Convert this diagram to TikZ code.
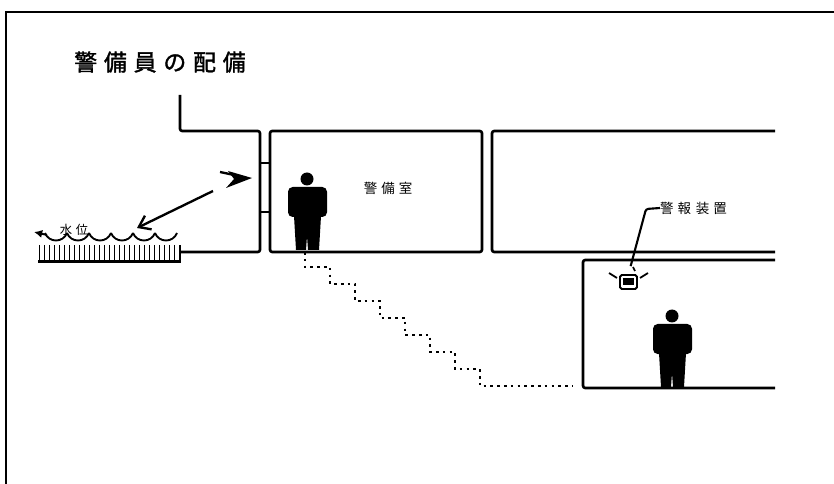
\documentclass[tikz,border=0pt]{standalone}
\usepackage{fontspec}
\newfontfamily\jp[LetterSpace=30]{Noto Sans CJK JP}
\newfontfamily\jptitle[LetterSpace=30,FakeBold=1.5]{Noto Sans CJK JP}
\usetikzlibrary{arrows.meta}

\tikzset{
  wall/.style={line width=2.3pt, rounded corners=2pt},
  stairpath/.style={line width=2.2pt, dash pattern=on 2.2pt off 3.6pt},
  lbl/.style={font=\jp\fontsize{11.5}{12}\selectfont, inner sep=0pt},
  guard/.pic={
    \fill (0,-71) circle (6.5);
    \fill[rounded corners=4pt] (-19,-63) rectangle (20,-33);
    \fill (-13,-34) -- (-11,0) -- (-1,0) -- (0,-14) -- (1,0) -- (12,0) -- (14,-34) -- cycle;
  }
}

\begin{document}
\begin{tikzpicture}[x=0.03cm, y=-0.03cm]
  \useasboundingbox (0,0) rectangle (834,484);
  \fill[white] (0,0) rectangle (834,484);

  % frame
  \draw[line width=2pt] (6,484) -- (6,12) -- (834,12);

  \node[font=\jptitle\fontsize{19.5}{20}\selectfont, inner sep=0pt] (title) at (160,62) {警備員の配備};

  % river side wall and ladder
  \draw[wall] (180,95) -- (180,131) -- (260,131) -- (260,252) -- (180,252);
  \draw[line width=2.3pt] (260,163) -- (270,163);
  \draw[line width=2.3pt] (260,212) -- (270,212);

  % rooms
  \draw[wall] (270,131) rectangle (482,252);
  \draw[wall] (775,131) -- (492,131) -- (492,252) -- (775,252);
  \draw[wall] (775,260) -- (583,260) -- (583,388) -- (775,388);

  \node[lbl] (roomlbl) at (388,188) {警備室};

  % water gauge
  \foreach \x in {39.5,44.5,...,178}
    \draw[line width=1.4pt] (\x,245) -- (\x,262);
  \fill (38,260) rectangle (180,263);
  \draw[line width=1.8pt] (180,263) -- (180,245);
  \foreach \x in {45,67,...,155}
    \draw[line width=1.6pt] (\x,233) .. controls (\x+4,243) and (\x+18,243) .. (\x+22,233);
  \draw[line width=1.6pt, -{Latex[length=7pt,width=7pt]}] (47,235) -- (34,232);
  \node[font=\jp\fontsize{10.5}{10}\selectfont, inner sep=0pt] (waterlbl) at (74,230) {水位};

  % look-out
  \fill (228,171) -- (252,178) -- (226,188) -- (234,179) -- cycle;
  \draw[line width=2pt] (220,172) -- (234,175);
  \coordinate (eye) at (213,191);
  \coordinate (water) at (137,228);
  \draw[line width=2pt, -{Straight Barb[length=9pt,width=13pt]}] (eye) -- (water);

  % guards
  \pic at (307,250) {guard};
  \pic at (672,387) {guard};

  % alarm
  \node[draw, line width=1.6pt, rounded corners=1.5pt, minimum width=17*0.03cm,
        minimum height=14*0.03cm, inner sep=0pt] (alarm) at (628.5,282) {};
  \fill (623,278) rectangle (634,285);
  \draw[line width=1.5pt] (609,273) -- (617,278);
  \draw[line width=1.5pt] (633,267) -- (635,271);
  \draw[line width=1.5pt] (640,278) -- (648,273);
  \node[lbl, anchor=west] (alarmlbl) at (660,208) {警報\hspace{0.35em}装置};
  \draw[line width=1.8pt, rounded corners=2pt, shorten <=7pt] (alarm.north) -- (646,209) -- (alarmlbl.west);

  % route down to the room
  \draw[stairpath] (305,252) -- (305,267)
    -- ++(25,0) -- ++(0,17) -- ++(25,0) -- ++(0,17) -- ++(25,0) -- ++(0,17)
    -- ++(25,0) -- ++(0,17) -- ++(25,0) -- ++(0,17) -- ++(25,0) -- ++(0,17)
    -- ++(25,0) -- ++(0,17) -- (572,386);
\end{tikzpicture}
\end{document}
